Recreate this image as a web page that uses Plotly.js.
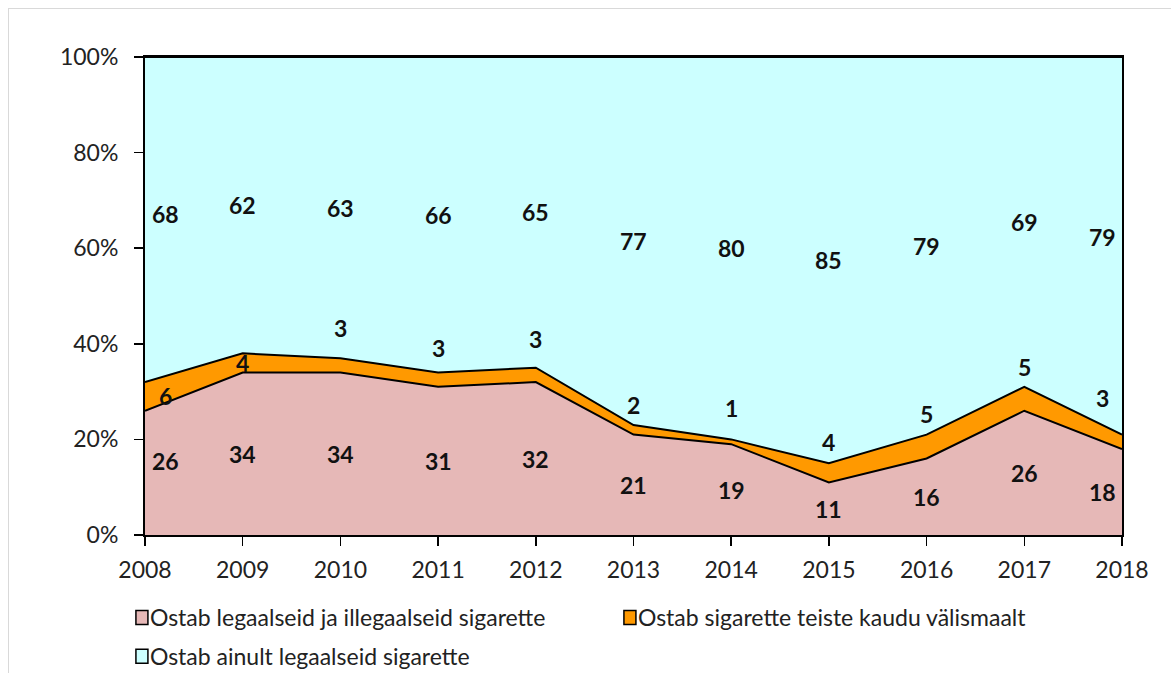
<!DOCTYPE html>
<html>
<head>
<meta charset="utf-8">
<script src="https://cdn.plot.ly/plotly-3.0.1.min.js"></script>
<style>
  html, body { margin: 0; padding: 0; background: #fff; overflow: hidden; width: 1171px; height: 673px; }
  #frame { position: absolute; left: 8px; top: 8px; width: 1170px; height: 670px; border: 1px solid #d9d9d9; box-sizing: border-box; }
  #chart { position: absolute; left: 0; top: 0; width: 1171px; height: 720px; }
</style>
</head>
<body>
<div id="frame"></div>
<div id="chart"></div>
<script>
const years = [2008, 2009, 2010, 2011, 2012, 2013, 2014, 2015, 2016, 2017, 2018];
const illegal = [26, 34, 34, 31, 32, 21, 19, 11, 16, 26, 18];
const abroad  = [6, 4, 3, 3, 3, 2, 1, 4, 5, 5, 3];
const legal   = [68, 62, 63, 66, 65, 77, 80, 85, 79, 69, 79];
const seriesNames = [
  'Ostab legaalseid ja illegaalseid sigarette',
  'Ostab sigarette teiste kaudu välismaalt',
  'Ostab ainult legaalseid sigarette'
];
const yTicks = [0, 20, 40, 60, 80, 100];

// label placement tweaks (pixels) – layout only
const illegalLift = [12, 0, 0, 0, 0, 0, 0, 0, 0, 0, 0];
const abroadLift  = [0, 0, 30, 24, 29, 20, 31, 21, 21, 20, 37];
const legalLift   = [6, 0, 0, 0, 0, 0, 0, 0, 0, 0, 9];

const FONT = 'Lato, "Open Sans", sans-serif';
const colors = ['#E6B8B7', '#FF9900', '#CCFFFF'];
const seriesData = [illegal, abroad, legal];

const traces = seriesData.map((vals, i) => ({
  type: 'scatter',
  mode: 'lines',
  x: years,
  y: vals,
  name: seriesNames[i],
  stackgroup: 'one',
  fillcolor: colors[i],
  line: { color: '#000', width: 2, shape: 'linear' },
  hoverinfo: 'skip',
  legend: i < 2 ? 'legend' : 'legend2'
}));

function xshift(i) {
  if (i === 0) return 20;
  if (i === years.length - 1) return -20;
  return 0;
}

const labelFont = { family: FONT, size: 23, color: '#111', weight: 'bold' };
const annotations = [];
years.forEach((yr, i) => {
  const base1 = illegal[i];
  const top2 = illegal[i] + abroad[i];
  annotations.push({
    x: yr, y: illegal[i] / 2, text: String(illegal[i]), showarrow: false,
    xshift: xshift(i), yshift: illegalLift[i], font: labelFont
  });
  const abroadY = (i < 2) ? base1 + abroad[i] / 2 : top2;
  annotations.push({
    x: yr, y: abroadY, text: String(abroad[i]), showarrow: false,
    xshift: xshift(i), yshift: abroadLift[i], font: labelFont
  });
  annotations.push({
    x: yr, y: top2 + legal[i] / 2, text: String(legal[i]), showarrow: false,
    xshift: xshift(i), yshift: legalLift[i], font: labelFont
  });
});

const layout = {
  width: 1171, height: 720,
  margin: { l: 145, r: 49, t: 57, b: 185 },
  paper_bgcolor: 'rgba(0,0,0,0)',
  plot_bgcolor: '#fff',
  font: { family: FONT, size: 23, color: '#222' },
  showlegend: true,
  xaxis: {
    range: [2008, 2018], tickvals: years, ticktext: years.map(String),
    showgrid: false, zeroline: false, fixedrange: true,
    showline: true, linecolor: '#000', linewidth: 2, mirror: true,
    ticks: 'outside', ticklen: 9, tickwidth: 1.5, tickcolor: '#000',
    ticklabelstandoff: 4,
    tickfont: { family: FONT, size: 23, color: '#222' }
  },
  yaxis: {
    range: [0, 100], tickvals: yTicks, ticktext: yTicks.map(v => v + '%'),
    showgrid: false, zeroline: false, fixedrange: true,
    showline: true, linecolor: '#000', linewidth: 2, mirror: true,
    ticks: 'outside', ticklen: 9, tickwidth: 1.5, tickcolor: '#000',
    ticklabelstandoff: 11,
    tickfont: { family: FONT, size: 23, color: '#222' }
  },
  legend: {
    orientation: 'h', x: -0.0359, xanchor: 'left', y: -0.1275, yanchor: 'top',
    traceorder: 'normal', itemwidth: 30,
    entrywidth: 443, entrywidthmode: 'pixels',
    font: { family: FONT, size: 23, color: '#222' }, bgcolor: 'rgba(0,0,0,0)'
  },
  legend2: {
    orientation: 'h', x: -0.0359, xanchor: 'left', y: -0.209, yanchor: 'top',
    traceorder: 'normal', itemwidth: 30,
    font: { family: FONT, size: 23, color: '#222' }, bgcolor: 'rgba(0,0,0,0)'
  },
  annotations: annotations
};

Plotly.newPlot('chart', traces, layout, { displayModeBar: false, staticPlot: true }).then(gd => {
  // square swatches with black outline, like the original legend
  gd.querySelectorAll('.infolayer .traces').forEach(item => {
    item.querySelectorAll('.js-line').forEach(p => p.setAttribute('d', ''));
    item.querySelectorAll('.js-fill').forEach(p => {
      p.setAttribute('d', 'M26,-7h12v14h-12z');
      p.style.stroke = '#000';
      p.style.strokeWidth = '1.5px';
    });
  });
});
</script>
</body>
</html>
